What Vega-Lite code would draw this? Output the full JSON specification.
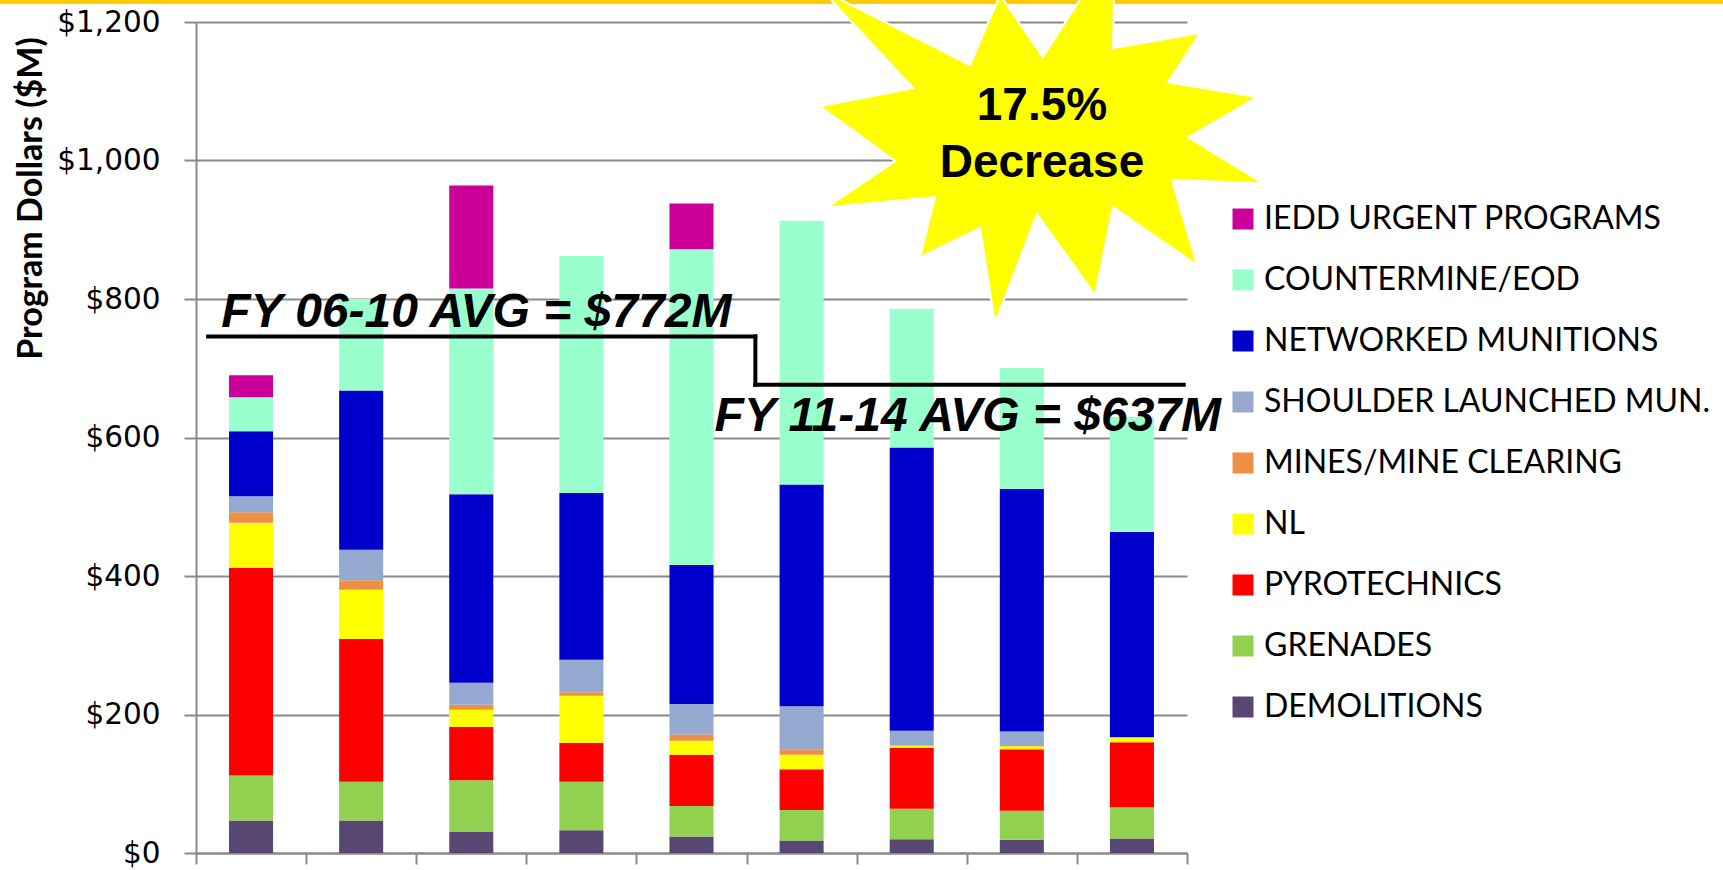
{
  "$schema": "https://vega.github.io/schema/vega-lite/v6.json",
  "width": 991,
  "height": 831,
  "autosize": {"type": "none"},
  "padding": {"left": 196, "top": 22, "right": 536, "bottom": 17},
  "background": "white",
  "config": {"view": {"stroke": null}},
  "datasets": {
    "budget": [
      {"fy": "FY06", "series": "DEMOLITIONS", "v": 47},
      {"fy": "FY06", "series": "GRENADES", "v": 65},
      {"fy": "FY06", "series": "PYROTECHNICS", "v": 300},
      {"fy": "FY06", "series": "NL", "v": 65},
      {"fy": "FY06", "series": "MINES/MINE CLEARING", "v": 15},
      {"fy": "FY06", "series": "SHOULDER LAUNCHED MUN.", "v": 23},
      {"fy": "FY06", "series": "NETWORKED MUNITIONS", "v": 94},
      {"fy": "FY06", "series": "COUNTERMINE/EOD", "v": 49},
      {"fy": "FY06", "series": "IEDD URGENT PROGRAMS", "v": 32},
      {"fy": "FY07", "series": "DEMOLITIONS", "v": 47},
      {"fy": "FY07", "series": "GRENADES", "v": 56},
      {"fy": "FY07", "series": "PYROTECHNICS", "v": 206},
      {"fy": "FY07", "series": "NL", "v": 71},
      {"fy": "FY07", "series": "MINES/MINE CLEARING", "v": 14},
      {"fy": "FY07", "series": "SHOULDER LAUNCHED MUN.", "v": 44},
      {"fy": "FY07", "series": "NETWORKED MUNITIONS", "v": 230},
      {"fy": "FY07", "series": "COUNTERMINE/EOD", "v": 132},
      {"fy": "FY08", "series": "DEMOLITIONS", "v": 31},
      {"fy": "FY08", "series": "GRENADES", "v": 74},
      {"fy": "FY08", "series": "PYROTECHNICS", "v": 77},
      {"fy": "FY08", "series": "NL", "v": 25},
      {"fy": "FY08", "series": "MINES/MINE CLEARING", "v": 7},
      {"fy": "FY08", "series": "SHOULDER LAUNCHED MUN.", "v": 32},
      {"fy": "FY08", "series": "NETWORKED MUNITIONS", "v": 272},
      {"fy": "FY08", "series": "COUNTERMINE/EOD", "v": 297},
      {"fy": "FY08", "series": "IEDD URGENT PROGRAMS", "v": 149},
      {"fy": "FY09", "series": "DEMOLITIONS", "v": 33},
      {"fy": "FY09", "series": "GRENADES", "v": 70},
      {"fy": "FY09", "series": "PYROTECHNICS", "v": 56},
      {"fy": "FY09", "series": "NL", "v": 68},
      {"fy": "FY09", "series": "MINES/MINE CLEARING", "v": 5},
      {"fy": "FY09", "series": "SHOULDER LAUNCHED MUN.", "v": 47},
      {"fy": "FY09", "series": "NETWORKED MUNITIONS", "v": 241},
      {"fy": "FY09", "series": "COUNTERMINE/EOD", "v": 342},
      {"fy": "FY10", "series": "DEMOLITIONS", "v": 24},
      {"fy": "FY10", "series": "GRENADES", "v": 44},
      {"fy": "FY10", "series": "PYROTECHNICS", "v": 74},
      {"fy": "FY10", "series": "NL", "v": 20},
      {"fy": "FY10", "series": "MINES/MINE CLEARING", "v": 9},
      {"fy": "FY10", "series": "SHOULDER LAUNCHED MUN.", "v": 44},
      {"fy": "FY10", "series": "NETWORKED MUNITIONS", "v": 201},
      {"fy": "FY10", "series": "COUNTERMINE/EOD", "v": 456},
      {"fy": "FY10", "series": "IEDD URGENT PROGRAMS", "v": 66},
      {"fy": "FY11", "series": "DEMOLITIONS", "v": 18},
      {"fy": "FY11", "series": "GRENADES", "v": 44},
      {"fy": "FY11", "series": "PYROTECHNICS", "v": 59},
      {"fy": "FY11", "series": "NL", "v": 21},
      {"fy": "FY11", "series": "MINES/MINE CLEARING", "v": 8},
      {"fy": "FY11", "series": "SHOULDER LAUNCHED MUN.", "v": 62},
      {"fy": "FY11", "series": "NETWORKED MUNITIONS", "v": 320},
      {"fy": "FY11", "series": "COUNTERMINE/EOD", "v": 381},
      {"fy": "FY12", "series": "DEMOLITIONS", "v": 20},
      {"fy": "FY12", "series": "GRENADES", "v": 44},
      {"fy": "FY12", "series": "PYROTECHNICS", "v": 88},
      {"fy": "FY12", "series": "NL", "v": 3},
      {"fy": "FY12", "series": "MINES/MINE CLEARING", "v": 0.5},
      {"fy": "FY12", "series": "SHOULDER LAUNCHED MUN.", "v": 21},
      {"fy": "FY12", "series": "NETWORKED MUNITIONS", "v": 409},
      {"fy": "FY12", "series": "COUNTERMINE/EOD", "v": 200},
      {"fy": "FY13", "series": "DEMOLITIONS", "v": 19},
      {"fy": "FY13", "series": "GRENADES", "v": 42},
      {"fy": "FY13", "series": "PYROTECHNICS", "v": 89},
      {"fy": "FY13", "series": "NL", "v": 4},
      {"fy": "FY13", "series": "MINES/MINE CLEARING", "v": 0.5},
      {"fy": "FY13", "series": "SHOULDER LAUNCHED MUN.", "v": 21},
      {"fy": "FY13", "series": "NETWORKED MUNITIONS", "v": 350},
      {"fy": "FY13", "series": "COUNTERMINE/EOD", "v": 175},
      {"fy": "FY14", "series": "DEMOLITIONS", "v": 21},
      {"fy": "FY14", "series": "GRENADES", "v": 45},
      {"fy": "FY14", "series": "PYROTECHNICS", "v": 94},
      {"fy": "FY14", "series": "NL", "v": 6},
      {"fy": "FY14", "series": "MINES/MINE CLEARING", "v": 0.5},
      {"fy": "FY14", "series": "SHOULDER LAUNCHED MUN.", "v": 1},
      {"fy": "FY14", "series": "NETWORKED MUNITIONS", "v": 296},
      {"fy": "FY14", "series": "COUNTERMINE/EOD", "v": 166}
    ],
    "seriesInfo": [
      {"series": "DEMOLITIONS", "rank": 1},
      {"series": "GRENADES", "rank": 2},
      {"series": "PYROTECHNICS", "rank": 3},
      {"series": "NL", "rank": 4},
      {"series": "MINES/MINE CLEARING", "rank": 5},
      {"series": "SHOULDER LAUNCHED MUN.", "rank": 6},
      {"series": "NETWORKED MUNITIONS", "rank": 7},
      {"series": "COUNTERMINE/EOD", "rank": 8},
      {"series": "IEDD URGENT PROGRAMS", "rank": 9}
    ]
  },
  "layer": [
    {
      "data": {"name": "budget"},
      "transform": [
        {"lookup": "series", "from": {"data": {"name": "seriesInfo"}, "key": "series", "fields": ["rank"]}}
      ],
      "mark": {"type": "bar", "width": {"band": 0.4}},
      "encoding": {
        "x": {
          "field": "fy", "type": "nominal",
          "scale": {"paddingInner": 0, "paddingOuter": 0},
          "axis": {"labels": false, "title": null, "tickBand": "extent", "tickSize": 11, "tickWidth": 2, "domainWidth": 2, "domainColor": "#8a8a8a", "tickColor": "#8a8a8a", "grid": false}
        },
        "y": {
          "field": "v", "type": "quantitative", "stack": "zero",
          "scale": {"domain": [0, 1200], "nice": false},
          "axis": {
            "values": [0, 200, 400, 600, 800, 1000, 1200],
            "format": "$,.0f",
            "labelFont": "DejaVu Sans", "labelFontSize": 29.5, "labelColor": "#000000", "labelPadding": 24,
            "tickSize": 12, "tickWidth": 2, "tickColor": "#8a8a8a",
            "domainColor": "#8a8a8a", "domainWidth": 2,
            "grid": true, "gridColor": "#8a8a8a", "gridWidth": 2,
            "title": "Program Dollars ($M)",
            "titleFont": "Lato", "titleFontSize": 34, "titleFontWeight": "bold", "titleColor": "#000000",
            "titleAngle": -90, "titleX": -165, "titleY": 176, "titleAlign": "center", "titleBaseline": "middle"
          }
        },
        "color": {
          "field": "series", "type": "nominal",
          "scale": {
            "domain": ["IEDD URGENT PROGRAMS", "COUNTERMINE/EOD", "NETWORKED MUNITIONS", "SHOULDER LAUNCHED MUN.", "MINES/MINE CLEARING", "NL", "PYROTECHNICS", "GRENADES", "DEMOLITIONS"],
            "range": ["#CC0099", "#99FFCC", "#0000CC", "#95A9D0", "#EE9044", "#FFFF00", "#FF0000", "#92D050", "#584673"]
          },
          "legend": {
            "orient": "none", "legendX": 1031, "legendY": 181, "title": null,
            "symbolType": "square", "symbolSize": 441, "symbolStrokeWidth": 0, "symbolOpacity": 1,
            "labelFont": "Lato", "labelFontSize": 32, "labelColor": "#000000", "labelOffset": 5, "labelLimit": 0,
            "rowPadding": 29, "padding": 0
          }
        },
        "order": {"field": "rank", "sort": "ascending"}
      }
    },
    {
      "data": {"values": [{}]},
      "mark": {"type": "rect", "color": "#FFCC00"},
      "encoding": {
        "x": {"datum": -2, "type": "quantitative", "scale": {"domain": [0, 9]}, "axis": null},
        "x2": {"datum": 14},
        "y": {"datum": 1226, "type": "quantitative", "scale": {"domain": [0, 1200], "nice": false}},
        "y2": {"datum": 1260}
      }
    },
    {
      "data": {"values": [{}]},
      "mark": {
        "type": "point",
        "shape": "M-0.913,-0.667L-0.296,-0.354L-0.171,-0.646L0.008,-0.388L0.308,-0.854L0.3,-0.425L0.663,-0.488L0.529,-0.283L0.9,-0.221L0.613,-0.054L0.925,0.138L0.546,0.125L0.65,0.479L0.3,0.238L0.225,0.604L-0.017,0.267L-0.192,0.721L-0.254,0.325L-0.504,0.446L-0.442,0.196L-0.892,0.238L-0.608,0.046L-0.921,-0.183L-0.533,-0.258Z",
        "size": 230400, "filled": true, "fill": "#FFFF00", "stroke": "#FFFFFF", "strokeWidth": 2, "opacity": 1, "fillOpacity": 1
      },
      "encoding": {
        "x": {"datum": 7.674, "type": "quantitative", "scale": {"domain": [0, 9]}, "axis": null},
        "y": {"datum": 1015, "type": "quantitative", "scale": {"domain": [0, 1200], "nice": false}}
      }
    },
    {
      "data": {"values": [{}]},
      "mark": {"type": "text", "font": "Liberation Sans", "fontWeight": "bold", "fontSize": 46, "align": "center", "baseline": "alphabetic", "lineHeight": 57, "color": "#000000"},
      "encoding": {
        "x": {"datum": 7.683, "type": "quantitative", "scale": {"domain": [0, 9]}, "axis": null},
        "y": {"datum": 1058, "type": "quantitative", "scale": {"domain": [0, 1200], "nice": false}},
        "text": {"value": ["17.5%", "Decrease"]}
      }
    },
    {
      "data": {"values": [{}]},
      "mark": {"type": "rule", "strokeWidth": 4, "color": "#000000", "strokeCap": "square"},
      "encoding": {
        "x": {"datum": 0.11, "type": "quantitative", "scale": {"domain": [0, 9]}, "axis": null},
        "x2": {"datum": 5.08},
        "y": {"datum": 746, "type": "quantitative", "scale": {"domain": [0, 1200], "nice": false}}
      }
    },
    {
      "data": {"values": [{}]},
      "mark": {"type": "rule", "strokeWidth": 4, "color": "#000000", "strokeCap": "square"},
      "encoding": {
        "x": {"datum": 5.08, "type": "quantitative", "scale": {"domain": [0, 9]}, "axis": null},
        "y": {"datum": 746, "type": "quantitative", "scale": {"domain": [0, 1200], "nice": false}},
        "y2": {"datum": 676}
      }
    },
    {
      "data": {"values": [{}]},
      "mark": {"type": "rule", "strokeWidth": 4, "color": "#000000", "strokeCap": "square"},
      "encoding": {
        "x": {"datum": 5.08, "type": "quantitative", "scale": {"domain": [0, 9]}, "axis": null},
        "x2": {"datum": 8.97},
        "y": {"datum": 676, "type": "quantitative", "scale": {"domain": [0, 1200], "nice": false}}
      }
    },
    {
      "data": {"values": [{}]},
      "mark": {"type": "text", "font": "Liberation Sans", "fontWeight": "bold", "fontStyle": "italic", "fontSize": 48, "align": "left", "baseline": "alphabetic", "color": "#000000"},
      "encoding": {
        "x": {"datum": 0.23, "type": "quantitative", "scale": {"domain": [0, 9]}, "axis": null},
        "y": {"datum": 759, "type": "quantitative", "scale": {"domain": [0, 1200], "nice": false}},
        "text": {"value": "FY 06-10 AVG = $772M"}
      }
    },
    {
      "data": {"values": [{}]},
      "mark": {"type": "text", "font": "Liberation Sans", "fontWeight": "bold", "fontStyle": "italic", "fontSize": 48, "align": "left", "baseline": "alphabetic", "color": "#000000"},
      "encoding": {
        "x": {"datum": 4.71, "type": "quantitative", "scale": {"domain": [0, 9]}, "axis": null},
        "y": {"datum": 609, "type": "quantitative", "scale": {"domain": [0, 1200], "nice": false}},
        "text": {"value": "FY 11-14 AVG = $637M"}
      }
    }
  ],
  "resolve": {"scale": {"x": "independent"}}
}
